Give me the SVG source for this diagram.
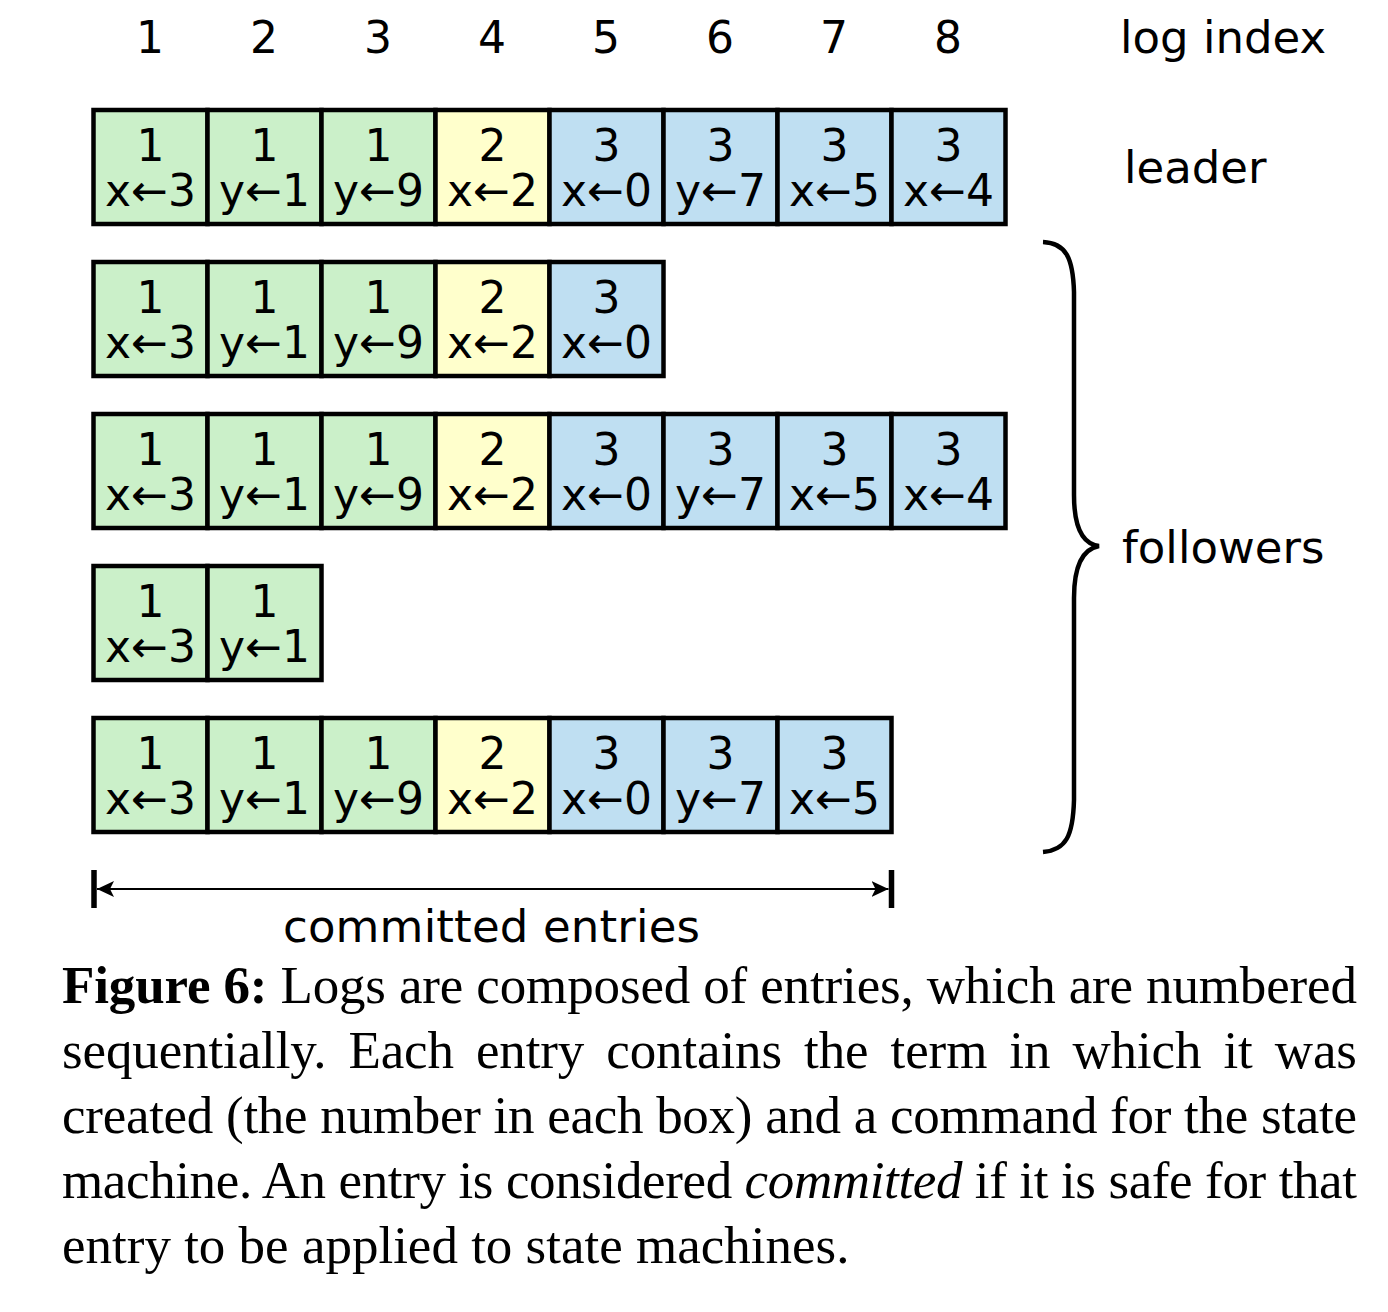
<svg xmlns="http://www.w3.org/2000/svg" width="1388" height="1312" viewBox="0 0 1388 1312">
<style>
.c{stroke:#000;stroke-width:4.5}
.g{fill:#cbf0c9}
.y{fill:#ffffcc}
.b{fill:#bfdff2}
.t{font-family:"DejaVu Sans",sans-serif;font-size:44px;fill:#000;text-anchor:middle}
.l{font-family:"DejaVu Sans",sans-serif;font-size:45px;fill:#000}
.cap{font-family:"Liberation Serif","Times New Roman",serif;font-size:53px;fill:#000}
</style>
<defs>
<marker id="ah" markerWidth="17" markerHeight="16" refX="17" refY="8" orient="auto" markerUnits="userSpaceOnUse" viewBox="0 0 17 16">
<path d="M0,0 L17,8 L0,16 L4,8 Z" fill="#000"/>
</marker>
</defs>
<rect width="1388" height="1312" fill="#fff"/>
<g id="index-labels">
<text class="t" x="150" y="53">1</text>
<text class="t" x="264" y="53">2</text>
<text class="t" x="378" y="53">3</text>
<text class="t" x="492" y="53">4</text>
<text class="t" x="606" y="53">5</text>
<text class="t" x="720" y="53">6</text>
<text class="t" x="834" y="53">7</text>
<text class="t" x="948" y="53">8</text>
<text class="l" x="1120" y="53">log index</text>
<text class="l" x="1124" y="183">leader</text>
<text class="l" x="1122" y="563">followers</text>
</g>
<g id="leader">
<rect class="c g" x="93.5" y="110" width="114" height="114"/><text class="t" x="150.5" y="161">1</text><text class="t" x="150.5" y="206">x←3</text>
<rect class="c g" x="207.5" y="110" width="114" height="114"/><text class="t" x="264.5" y="161">1</text><text class="t" x="264.5" y="206">y←1</text>
<rect class="c g" x="321.5" y="110" width="114" height="114"/><text class="t" x="378.5" y="161">1</text><text class="t" x="378.5" y="206">y←9</text>
<rect class="c y" x="435.5" y="110" width="114" height="114"/><text class="t" x="492.5" y="161">2</text><text class="t" x="492.5" y="206">x←2</text>
<rect class="c b" x="549.5" y="110" width="114" height="114"/><text class="t" x="606.5" y="161">3</text><text class="t" x="606.5" y="206">x←0</text>
<rect class="c b" x="663.5" y="110" width="114" height="114"/><text class="t" x="720.5" y="161">3</text><text class="t" x="720.5" y="206">y←7</text>
<rect class="c b" x="777.5" y="110" width="114" height="114"/><text class="t" x="834.5" y="161">3</text><text class="t" x="834.5" y="206">x←5</text>
<rect class="c b" x="891.5" y="110" width="114" height="114"/><text class="t" x="948.5" y="161">3</text><text class="t" x="948.5" y="206">x←4</text>
</g>
<g id="follower1">
<rect class="c g" x="93.5" y="262" width="114" height="114"/><text class="t" x="150.5" y="313">1</text><text class="t" x="150.5" y="358">x←3</text>
<rect class="c g" x="207.5" y="262" width="114" height="114"/><text class="t" x="264.5" y="313">1</text><text class="t" x="264.5" y="358">y←1</text>
<rect class="c g" x="321.5" y="262" width="114" height="114"/><text class="t" x="378.5" y="313">1</text><text class="t" x="378.5" y="358">y←9</text>
<rect class="c y" x="435.5" y="262" width="114" height="114"/><text class="t" x="492.5" y="313">2</text><text class="t" x="492.5" y="358">x←2</text>
<rect class="c b" x="549.5" y="262" width="114" height="114"/><text class="t" x="606.5" y="313">3</text><text class="t" x="606.5" y="358">x←0</text>
</g>
<g id="follower2">
<rect class="c g" x="93.5" y="414" width="114" height="114"/><text class="t" x="150.5" y="465">1</text><text class="t" x="150.5" y="510">x←3</text>
<rect class="c g" x="207.5" y="414" width="114" height="114"/><text class="t" x="264.5" y="465">1</text><text class="t" x="264.5" y="510">y←1</text>
<rect class="c g" x="321.5" y="414" width="114" height="114"/><text class="t" x="378.5" y="465">1</text><text class="t" x="378.5" y="510">y←9</text>
<rect class="c y" x="435.5" y="414" width="114" height="114"/><text class="t" x="492.5" y="465">2</text><text class="t" x="492.5" y="510">x←2</text>
<rect class="c b" x="549.5" y="414" width="114" height="114"/><text class="t" x="606.5" y="465">3</text><text class="t" x="606.5" y="510">x←0</text>
<rect class="c b" x="663.5" y="414" width="114" height="114"/><text class="t" x="720.5" y="465">3</text><text class="t" x="720.5" y="510">y←7</text>
<rect class="c b" x="777.5" y="414" width="114" height="114"/><text class="t" x="834.5" y="465">3</text><text class="t" x="834.5" y="510">x←5</text>
<rect class="c b" x="891.5" y="414" width="114" height="114"/><text class="t" x="948.5" y="465">3</text><text class="t" x="948.5" y="510">x←4</text>
</g>
<g id="follower3">
<rect class="c g" x="93.5" y="566" width="114" height="114"/><text class="t" x="150.5" y="617">1</text><text class="t" x="150.5" y="662">x←3</text>
<rect class="c g" x="207.5" y="566" width="114" height="114"/><text class="t" x="264.5" y="617">1</text><text class="t" x="264.5" y="662">y←1</text>
</g>
<g id="follower4">
<rect class="c g" x="93.5" y="718" width="114" height="114"/><text class="t" x="150.5" y="769">1</text><text class="t" x="150.5" y="814">x←3</text>
<rect class="c g" x="207.5" y="718" width="114" height="114"/><text class="t" x="264.5" y="769">1</text><text class="t" x="264.5" y="814">y←1</text>
<rect class="c g" x="321.5" y="718" width="114" height="114"/><text class="t" x="378.5" y="769">1</text><text class="t" x="378.5" y="814">y←9</text>
<rect class="c y" x="435.5" y="718" width="114" height="114"/><text class="t" x="492.5" y="769">2</text><text class="t" x="492.5" y="814">x←2</text>
<rect class="c b" x="549.5" y="718" width="114" height="114"/><text class="t" x="606.5" y="769">3</text><text class="t" x="606.5" y="814">x←0</text>
<rect class="c b" x="663.5" y="718" width="114" height="114"/><text class="t" x="720.5" y="769">3</text><text class="t" x="720.5" y="814">y←7</text>
<rect class="c b" x="777.5" y="718" width="114" height="114"/><text class="t" x="834.5" y="769">3</text><text class="t" x="834.5" y="814">x←5</text>
</g>
<g id="connectors" fill="none" stroke="#000">
<path d="M1043,242 C1066,243 1073,258 1074,292 L1074,495 C1074,528 1083,544 1099,546 C1083,549 1074,565 1074,598 L1074,800 C1073,836 1066,850 1043,852" stroke-width="4.5"/>
<line x1="94" y1="870" x2="94" y2="908" stroke-width="5.5"/>
<line x1="891.5" y1="870" x2="891.5" y2="908" stroke-width="5.5"/>
<line x1="400" y1="889" x2="97" y2="889" stroke-width="2" marker-end="url(#ah)"/>
<line x1="400" y1="889" x2="888.5" y2="889" stroke-width="2" marker-end="url(#ah)"/>
</g>
<text class="l" x="283" y="942" textLength="417" lengthAdjust="spacing">committed entries</text>
<g id="caption" class="cap">
<text x="62" y="1003" textLength="1295" lengthAdjust="spacing"><tspan font-weight="bold">Figure 6:</tspan> Logs are composed of entries, which are numbered</text>
<text x="62" y="1068" textLength="1295" lengthAdjust="spacing" word-spacing="9">sequentially. Each entry contains the term in which it was</text>
<text x="62" y="1133" textLength="1295" lengthAdjust="spacing">created (the number in each box) and a command for the state</text>
<text x="62" y="1198" textLength="1295" lengthAdjust="spacing">machine. An entry is considered <tspan font-style="italic">committed</tspan> if it is safe for that</text>
<text x="62" y="1263">entry to be applied to state machines.</text>
</g>
</svg>
